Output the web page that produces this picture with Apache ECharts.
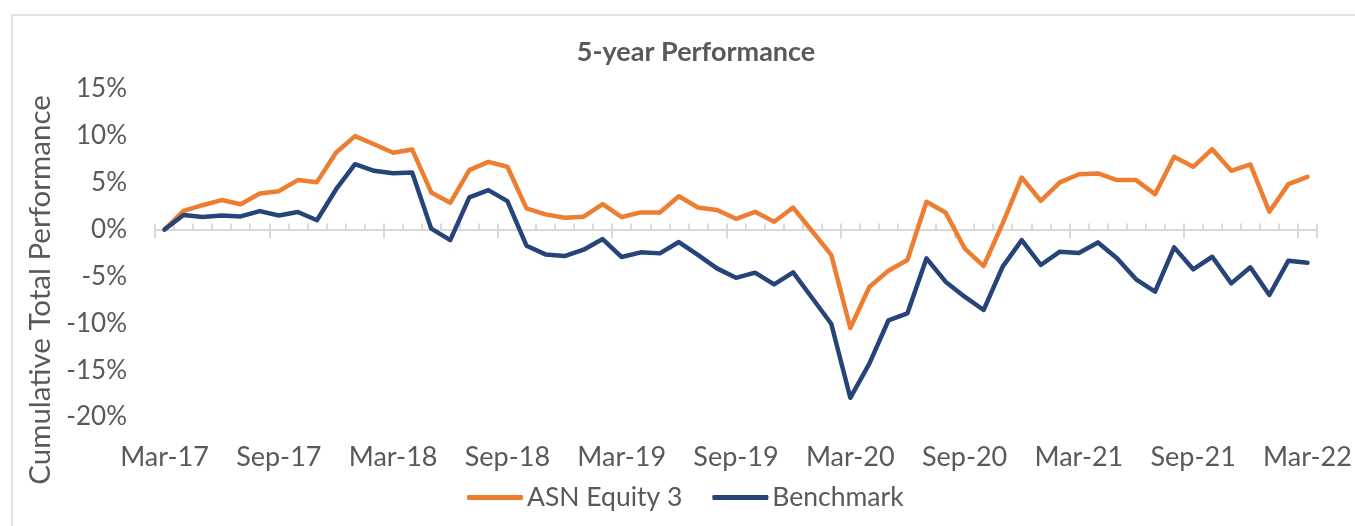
<!DOCTYPE html>
<html>
<head>
<meta charset="utf-8">
<script src="https://cdn.jsdelivr.net/npm/echarts@6/dist/echarts.min.js"></script>
<style>
  html, body { margin: 0; padding: 0; background: #fff; }
  #main { width: 1355px; height: 526px; }
</style>
</head>
<body>
<div id="main"></div>
<script>
// monthly categories, Mar-17 .. Mar-22
const months = [
  'Mar-17', 'Apr-17', 'May-17', 'Jun-17', 'Jul-17', 'Aug-17', 'Sep-17', 'Oct-17', 'Nov-17', 'Dec-17', 'Jan-18', 'Feb-18',
  'Mar-18', 'Apr-18', 'May-18', 'Jun-18', 'Jul-18', 'Aug-18', 'Sep-18', 'Oct-18', 'Nov-18', 'Dec-18', 'Jan-19', 'Feb-19',
  'Mar-19', 'Apr-19', 'May-19', 'Jun-19', 'Jul-19', 'Aug-19', 'Sep-19', 'Oct-19', 'Nov-19', 'Dec-19', 'Jan-20', 'Feb-20',
  'Mar-20', 'Apr-20', 'May-20', 'Jun-20', 'Jul-20', 'Aug-20', 'Sep-20', 'Oct-20', 'Nov-20', 'Dec-20', 'Jan-21', 'Feb-21',
  'Mar-21', 'Apr-21', 'May-21', 'Jun-21', 'Jul-21', 'Aug-21', 'Sep-21', 'Oct-21', 'Nov-21', 'Dec-21', 'Jan-22', 'Feb-22',
  'Mar-22'
]

// cumulative total performance, %
const asnEquity = [
  0, 2.0, 2.6, 3.15, 2.7, 3.85, 4.1, 5.28, 5.06, 8.2, 9.97, 9.1,
  8.2, 8.55, 3.96, 2.86, 6.34, 7.23, 6.7, 2.26, 1.62, 1.26, 1.37, 2.72,
  1.34, 1.83, 1.83, 3.55, 2.36, 2.08, 1.15, 1.9, 0.83, 2.35, -0.18, -2.7,
  -10.5, -6.13, -4.4, -3.25, 2.97, 1.83, -2.0, -3.89, 0.66, 5.56, 3.07, 5.03,
  5.9, 5.99, 5.28, 5.28, 3.78, 7.76, 6.7, 8.58, 6.27, 6.95, 1.9, 4.85,
  5.63
]

const benchmark = [
  0, 1.55, 1.33, 1.5, 1.4, 1.97, 1.5, 1.87, 1.0, 4.28, 6.98, 6.27,
  6.0, 6.1, 0.1, -1.12, 3.43, 4.21, 3.04, -1.72, -2.65, -2.83, -2.15, -1.01,
  -2.93, -2.43, -2.54, -1.33, -2.7, -4.14, -5.15, -4.6, -5.85, -4.57, -7.3, -10.05,
  -17.95, -14.3, -9.7, -8.94, -3.07, -5.56, -7.16, -8.58, -3.96, -1.12, -3.78, -2.36,
  -2.5, -1.37, -3.07, -5.31, -6.63, -1.9, -4.24, -2.9, -5.74, -4.03, -6.98, -3.32,
  -3.54
]

const seriesNames = ['ASN Equity 3', 'Benchmark']
const seriesColors = ['#ED7D31', '#264478']

const font = 'Lato'
const textColor = '#595959'
const gridColor = '#d9d9d9'

const chart = echarts.init(document.getElementById('main'))

const option = {
  animation: false,
  backgroundColor: '#fff',
  color: seriesColors,
  title: {
    text: '5-year Performance',
    left: 691,
    top: 34,
    textAlign: 'center',
    textStyle: { fontFamily: font, fontSize: 27, fontWeight: 'bold', color: textColor }
  },
  legend: {
    data: seriesNames,
    left: 462,
    top: 479,
    icon: 'roundRect',
    itemWidth: 56,
    itemHeight: 5,
    itemGap: 30,
    textStyle: { fontFamily: font, fontSize: 26.5, color: textColor, padding: [0, 0, 0, -1] }
  },
  grid: {
    left: 155,
    right: 38,
    top: 89,
    bottom: 109
  },
  xAxis: [
    {
      // labels along the bottom
      type: 'category',
      data: months,
      position: 'bottom',
      boundaryGap: true,
      axisLine: { show: false, onZero: false },
      axisTick: { show: false },
      axisLabel: { interval: 5, margin: 27, fontFamily: font, fontSize: 27, color: textColor }
    },
    {
      // axis line on 0% with small ticks
      type: 'category',
      data: months,
      position: 'bottom',
      boundaryGap: true,
      axisLine: { show: true, onZero: true, onZeroAxisIndex: 0, lineStyle: { color: gridColor, width: 2 } },
      axisTick: { show: true, interval: 0, inside: true, length: 6, lineStyle: { color: gridColor, width: 2 } },
      axisLabel: { show: false }
    },
    {
      // major ticks every 6 months
      type: 'category',
      data: months,
      position: 'bottom',
      boundaryGap: true,
      axisLine: { show: false, onZero: true, onZeroAxisIndex: 0 },
      axisTick: { show: true, interval: 5, inside: false, length: 9, lineStyle: { color: gridColor, width: 2 } },
      axisLabel: { show: false }
    }
  ],
  yAxis: {
    type: 'value',
    min: -20,
    max: 15,
    interval: 5,
    name: 'Cumulative Total Performance',
    nameLocation: 'middle',
    nameGap: 98,
    nameTextStyle: { fontFamily: font, fontSize: 29.5, color: textColor, padding: [0, 74, 0, 0] },
    axisLine: { show: false },
    axisTick: { show: false },
    splitLine: { show: false },
    axisLabel: { formatter: '{value}%', margin: 28, fontFamily: font, fontSize: 26, color: textColor }
  },
  series: seriesNames.map((name, i) => ({
    name: name,
    type: 'line',
    xAxisIndex: 0,
    data: i === 0 ? asnEquity : benchmark,
    symbol: 'none',
    lineStyle: { width: 4.5, color: seriesColors[i], join: 'round', cap: 'round' }
  })),
  graphic: [
    {
      type: 'rect',
      silent: true,
      shape: { x: 12, y: 15, width: 1400, height: 600 },
      style: { fill: null, stroke: gridColor, lineWidth: 1.5 }
    }
  ]
}

chart.setOption(option)
</script>
</body>
</html>
